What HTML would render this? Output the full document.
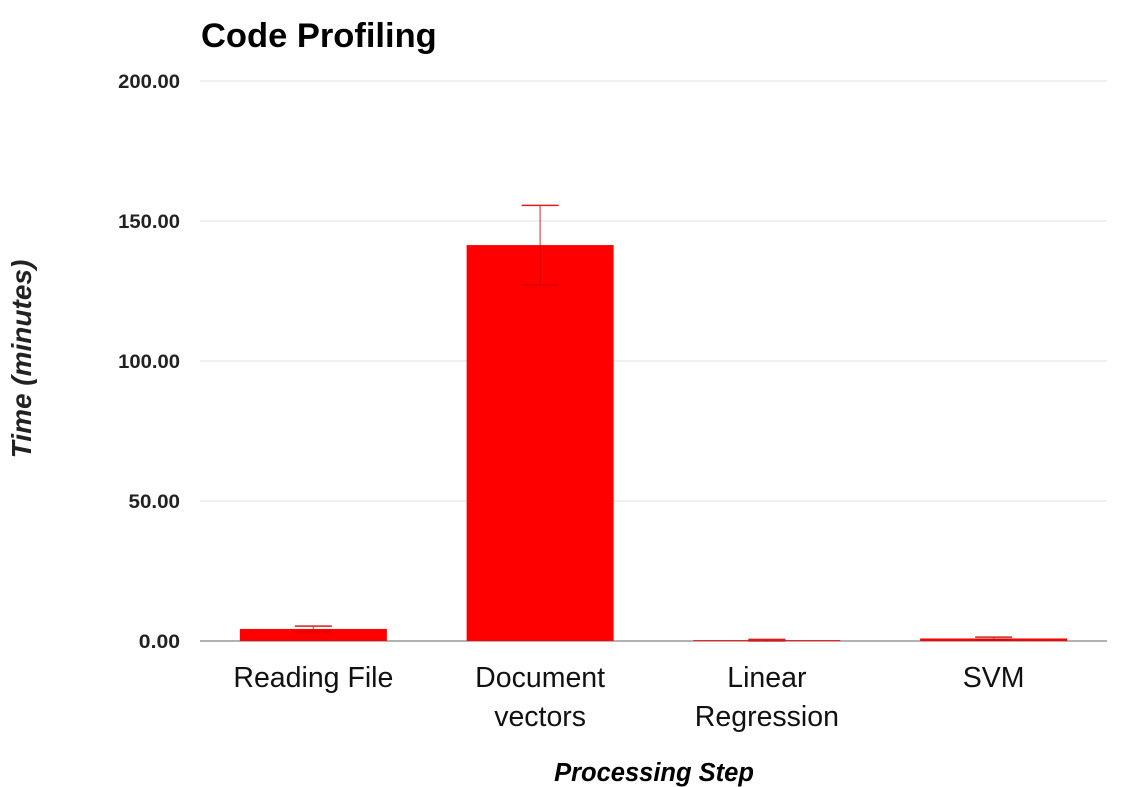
<!DOCTYPE html>
<html><head><meta charset="utf-8"><style>
html,body{margin:0;padding:0;background:#fff;}
svg{display:block;}
</style></head><body>
<svg width="1125" height="787" xmlns="http://www.w3.org/2000/svg">
<text x="201" y="47" font-family="Liberation Sans, sans-serif" font-weight="bold" font-size="34.5" fill="#000">Code Profiling</text>
<g id="grid"></g>
<g id="yticks"></g>
<g id="bars"></g>
<g id="xlabels"></g>
<text transform="translate(31,359) rotate(-90)" text-anchor="middle" font-family="Liberation Sans, sans-serif" font-weight="bold" font-style="italic" font-size="28" fill="#222">Time (minutes)</text>
<text x="654" y="781" text-anchor="middle" font-family="Liberation Sans, sans-serif" font-weight="bold" font-style="italic" font-size="25.5" fill="#000">Processing Step</text>
</svg>
<script>
const categories = [["Reading File"], ["Document", "vectors"], ["Linear", "Regression"], ["SVM"]];
const values = [4.3, 141.4, 0.3, 0.9];
const errors = [1.0, 14.2, 0.3, 0.5];
const yTicks = [0, 50, 100, 150, 200];
const yTickLabels = ["0.00", "50.00", "100.00", "150.00", "200.00"];

const NS = "http://www.w3.org/2000/svg";
const plotLeft = 200, plotRight = 1107, y0 = 641, yTop = 81, yMax = 200;
const band = (plotRight - plotLeft) / categories.length;
const barW = 147;
function yScale(v){ return y0 - (v / yMax) * (y0 - yTop); }
function xCenter(i){ return plotLeft + band * (i + 0.5); }
function mk(tag, attrs, parent){
  const el = document.createElementNS(NS, tag);
  for (const k in attrs) el.setAttribute(k, attrs[k]);
  parent.appendChild(el);
  return el;
}
const grid = document.getElementById('grid');
const yt = document.getElementById('yticks');
yTicks.forEach((t, i) => {
  const y = yScale(t);
  const ln = mk('line', {x1: plotLeft, x2: plotRight, y1: y, y2: y, stroke: i === 0 ? '#999' : '#e0e0e0', 'stroke-width': i === 0 ? 1.5 : 1}, grid);
  
  
  const tx = mk('text', {x: 180, y: y + 7, 'text-anchor': 'end', 'font-family': 'Liberation Sans, sans-serif', 'font-weight': 'bold', 'font-size': '19.5', fill: '#222', textLength: yTickLabels[i].length * 10.3, lengthAdjust: 'spacingAndGlyphs'}, yt);
  tx.textContent = yTickLabels[i];
  
  
});
const bars = document.getElementById('bars');
const xl = document.getElementById('xlabels');
categories.forEach((c, i) => {
  const cx = xCenter(i);
  const top = yScale(values[i]);
  const r = mk('rect', {x: cx - barW/2, y: top, width: barW, height: y0 - top, fill: '#ff0000'}, bars);
  
  
  const eT = yScale(values[i] + errors[i]), eB = yScale(Math.max(0, values[i] - errors[i]));
  const g = mk('g', {stroke: 'rgba(200,0,0,0.55)', 'stroke-width': 1.5}, bars);
  
  
  mk('line', {x1: cx, x2: cx, y1: eT, y2: eB}, g);
  mk('line', {x1: cx - 18.5, x2: cx + 18.5, y1: eT, y2: eT, stroke: '#d42020'}, g);
  mk('line', {x1: cx - 18.5, x2: cx + 18.5, y1: eB, y2: eB}, g);
  c.forEach((line, j) => {
    const t = mk('text', {x: cx, y: 687 + j * 39, 'text-anchor': 'middle', 'font-family': 'Liberation Sans, sans-serif', 'font-size': '28.5', fill: '#111'}, xl);
    t.textContent = line;
    
    
  });
});
</script>
</body></html>
